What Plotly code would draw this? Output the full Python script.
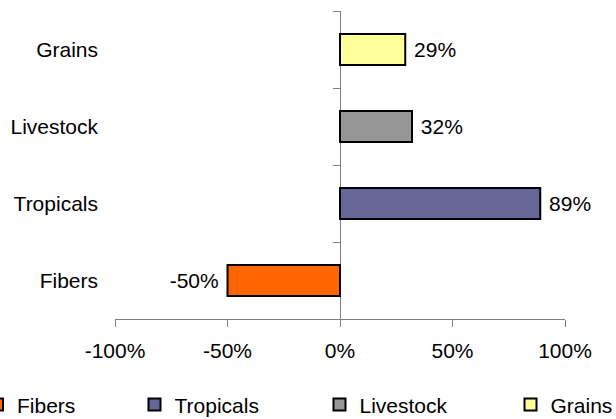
import plotly.graph_objects as go

categories = ["Fibers", "Tropicals", "Livestock", "Grains"]
values = [-50, 89, 32, 29]
colors = ["#FF6600", "#666699", "#969696", "#FFFF99"]
x_ticks = [-100, -50, 0, 50, 100]
x_tick_labels = ["-100%", "-50%", "0%", "50%", "100%"]

FONT = "Liberation Sans, Arial, sans-serif"
FS = 21
GRAY = "#808080"
legend_names = ["legend", "legend2", "legend3", "legend4"]
legend_x = [-0.3067, 0.0433, 0.4544, 0.8789]

fig = go.Figure()
for cat, val, col, lg in zip(categories, values, colors, legend_names):
    label = f"{val}%\u00a0" if val < 0 else f"\u00a0{val}%"
    fig.add_trace(go.Bar(
        x=[val], y=[cat], name=cat, orientation="h",
        marker=dict(color=col, line=dict(color="black", width=2)),
        text=[label], textposition="outside", cliponaxis=False,
        constraintext="none",
        textfont=dict(family=FONT, size=FS, color="black"),
        legend=lg, hoverinfo="skip",
    ))

# empty helper trace so the label axis (yaxis2) is drawn
fig.add_trace(go.Scatter(x=[], y=[], yaxis="y2", showlegend=False, hoverinfo="skip"))

n = len(categories)
layout = dict(
    width=616, height=419,
    margin=dict(l=115, r=51, t=11, b=100, autoexpand=False),
    paper_bgcolor="white", plot_bgcolor="white",
    font=dict(family=FONT, size=FS, color="black"),
    barmode="overlay", bargap=0.6,
    showlegend=True,
    xaxis=dict(range=[-100, 100], tickvals=x_ticks, ticktext=x_tick_labels,
               showgrid=False, zeroline=False, showline=True, linecolor=GRAY, linewidth=1,
               ticks="outside", ticklen=7, tickcolor=GRAY, tickwidth=1,
               ticklabelstandoff=6, tickfont=dict(size=FS)),
    yaxis=dict(type="category", categoryorder="array", categoryarray=categories,
               range=[-0.5, n - 0.5], anchor="free", position=0.5,
               showgrid=False, zeroline=False, showline=True, linecolor=GRAY, linewidth=1,
               ticks="outside", ticklen=7, tickcolor=GRAY, tickson="boundaries",
               showticklabels=False, layer="below traces"),
    yaxis2=dict(overlaying="y", anchor="x", side="left", range=[-0.5, n - 0.5],
                tickvals=list(range(n)), ticktext=categories,
                showgrid=False, zeroline=False, showline=False, ticks="",
                ticklabelstandoff=16, tickfont=dict(size=FS)),
)
for lg, lx in zip(legend_names, legend_x):
    layout[lg] = dict(orientation="h", x=lx, xanchor="left", y=-0.279, yanchor="middle",
                      font=dict(size=FS), itemclick=False, itemdoubleclick=False,
                      bgcolor="rgba(0,0,0,0)")
fig.update_layout(**layout)

fig.write_html("out.html")
